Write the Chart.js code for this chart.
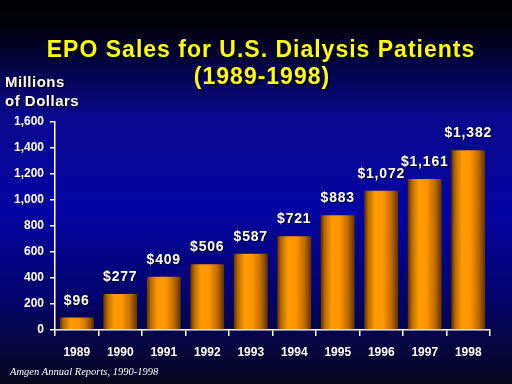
<!DOCTYPE html>
<html>
<head>
<meta charset="utf-8">
<script src="https://cdn.jsdelivr.net/npm/chart.js@4.4.1/dist/chart.umd.min.js"></script>
<style>
  html, body { margin: 0; padding: 0; background: #000; }
  #wrap { width: 512px; height: 384px; position: relative; }
</style>
</head>
<body>
<div id="wrap"><canvas id="c" width="512" height="384"></canvas></div>
<script>
const years = ['1989','1990','1991','1992','1993','1994','1995','1996','1997','1998'];
const sales = [96, 277, 409, 506, 587, 721, 883, 1072, 1161, 1382];
const valueLabels = ['$96','$277','$409','$506','$587','$721','$883','$1,072','$1,161','$1,382'];
const titleLines = ['EPO Sales for U.S. Dialysis Patients', '(1989-1998)'];
const axisTitleLines = ['Millions', 'of Dollars'];
const sourceNote = 'Amgen Annual Reports, 1990-1998';

const BAR_PCT = 0.78;

const bgPlugin = {
  id: 'bg',
  beforeDraw(chart) {
    const ctx = chart.ctx;
    const h = chart.height;
    const g = ctx.createLinearGradient(0, 0, 0, h);
    g.addColorStop(0, '#000000');
    g.addColorStop(0.07, '#00000c');
    g.addColorStop(0.3, '#08088c');
    g.addColorStop(0.55, '#0404a4');
    g.addColorStop(0.78, '#03036a');
    g.addColorStop(1, '#06061c');
    ctx.save();
    ctx.fillStyle = g;
    ctx.fillRect(0, 0, chart.width, h);
    ctx.restore();
  }
};

const textPlugin = {
  id: 'texts',
  afterDraw(chart) {
    const ctx = chart.ctx;
    ctx.save();
    // title
    ctx.fillStyle = '#ffff00';
    ctx.shadowColor = 'rgba(0,0,0,0.9)';
    ctx.shadowOffsetX = 2;
    ctx.shadowOffsetY = 2;
    ctx.shadowBlur = 1;
    ctx.font = 'bold 23px "Liberation Sans", Arial, sans-serif';
    ctx.letterSpacing = '1px';
    ctx.textAlign = 'center';
    ctx.textBaseline = 'alphabetic';
    ctx.fillText(titleLines[0], 261, 57);
    ctx.fillText(titleLines[1], 262, 84);
    // axis title
    ctx.fillStyle = '#ffffff';
    ctx.shadowOffsetX = 1;
    ctx.shadowOffsetY = 1;
    ctx.font = 'bold 15px "Liberation Sans", Arial, sans-serif';
    ctx.letterSpacing = '0.5px';
    ctx.textAlign = 'left';
    ctx.fillText(axisTitleLines[0], 5, 87);
    ctx.fillText(axisTitleLines[1], 5, 106);
    // source
    ctx.shadowColor = 'transparent';
    ctx.letterSpacing = '0px';
    ctx.font = 'italic 10.5px "Liberation Serif", "Times New Roman", serif';
    ctx.fillText(sourceNote, 10, 375);
    // value labels
    ctx.fillStyle = '#ffffff';
    ctx.shadowColor = 'rgba(0,0,0,0.8)';
    ctx.shadowOffsetX = 1;
    ctx.shadowOffsetY = 1;
    ctx.font = 'bold 14px "Liberation Sans", Arial, sans-serif';
    ctx.letterSpacing = '0.8px';
    ctx.textAlign = 'center';
    const meta = chart.getDatasetMeta(0);
    meta.data.forEach((bar, i) => {
      ctx.fillText(valueLabels[i], bar.x, bar.y - 13);
    });
    ctx.restore();
  }
};

new Chart(document.getElementById('c'), {
  type: 'bar',
  data: {
    labels: years,
    datasets: [{
      data: sales,
      barPercentage: BAR_PCT,
      categoryPercentage: 1.0,
      borderWidth: 0,
      backgroundColor(context) {
        const chart = context.chart;
        const area = chart.chartArea;
        if (!area) return '#ff9900';
        const xs = chart.scales.x;
        const cx = xs.getPixelForValue(context.dataIndex);
        const w = (area.right - area.left) / years.length * BAR_PCT;
        const g = chart.ctx.createLinearGradient(cx - w / 2, 0, cx + w / 2, 0);
        g.addColorStop(0, '#5a3000');
        g.addColorStop(0.12, '#b86a00');
        g.addColorStop(0.32, '#ff9a00');
        g.addColorStop(0.55, '#ff9600');
        g.addColorStop(0.8, '#c06a00');
        g.addColorStop(1, '#5a3200');
        return g;
      }
    }]
  },
  options: {
    responsive: false,
    animation: false,
    devicePixelRatio: 1,
    layout: { padding: { top: 122, right: 22, bottom: 0, left: 0 } },
    plugins: {
      legend: { display: false },
      title: { display: false },
      tooltip: { enabled: false }
    },
    scales: {
      x: {
        grid: {
          display: true,
          drawOnChartArea: false,
          drawTicks: true,
          tickLength: 6,
          color: '#ffffff',
          lineWidth: 1.5,
          offset: true
        },
        border: { display: true, color: '#ffffff', width: 1.5 },
        ticks: {
          color: '#ffffff',
          font: { family: '"Liberation Sans", Arial, sans-serif', size: 12, weight: 'bold' },
          padding: 9,
          maxRotation: 0
        },
        afterFit(scale) { scale.height = 54; }
      },
      y: {
        min: 0,
        max: 1600,
        ticks: {
          stepSize: 200,
          color: '#ffffff',
          font: { family: '"Liberation Sans", Arial, sans-serif', size: 12, weight: 'bold' },
          padding: 6,
          callback(v) { return v.toLocaleString('en-US'); }
        },
        grid: {
          display: true,
          drawOnChartArea: false,
          drawTicks: true,
          tickLength: 5,
          color: '#ffffff',
          lineWidth: 1.5
        },
        border: { display: true, color: '#ffffff', width: 1.5 },
        afterFit(scale) { scale.width = 55; }
      }
    }
  },
  plugins: [bgPlugin, textPlugin]
});
</script>
</body>
</html>
